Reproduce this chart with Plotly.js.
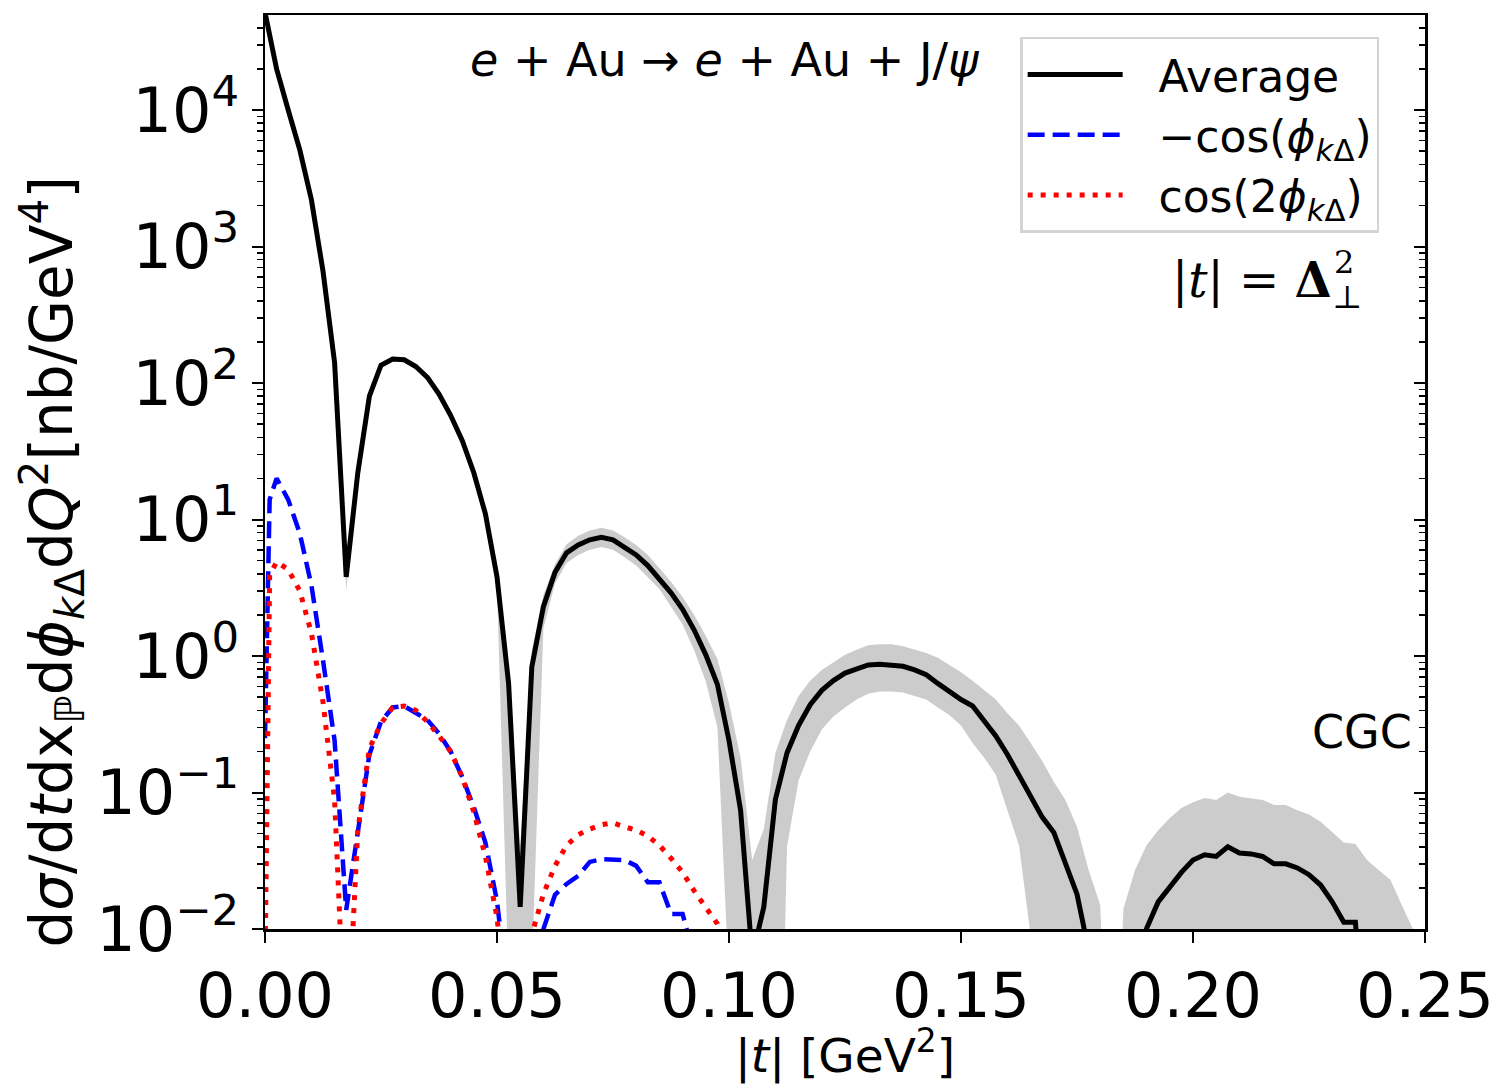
<!DOCTYPE html>
<html>
<head>
<meta charset="utf-8">
<script src="https://cdn.plot.ly/plotly-3.0.1.min.js"></script>
<style>html,body{margin:0;padding:0;background:#fff;}#plot{width:1500px;height:1084px;}</style>
</head>
<body>
<div id="plot"></div>
<script>
// |t| grid for the average and its band
const t = [0,0.0025,0.005,0.0075,0.01,0.0125,0.015,0.0175,0.02,0.0225,0.025,0.0275,0.03,0.0325,0.035,0.0375,0.04,0.0425,0.045,0.0475,
0.05,0.0525,0.055,0.0575,0.06,0.0625,0.065,0.0675,0.07,0.0725,0.075,0.0775,0.08,0.0825,0.085,0.0875,0.09,0.0925,0.095,0.0975,
0.1,0.1025,0.105,0.1075,0.11,0.1125,0.115,0.1175,0.12,0.1225,0.125,0.1275,0.13,0.1325,0.135,0.1375,0.14,0.1425,0.145,0.1475,
0.15,0.1525,0.155,0.1575,0.16,0.1625,0.165,0.1675,0.17,0.1725,0.175,0.1775,0.18,0.1825,0.185,0.1875,0.19,0.1925,0.195,0.1975,
0.2,0.2025,0.205,0.2075,0.21,0.2125,0.215,0.2175,0.22,0.2225,0.225,0.2275,0.23,0.2325,0.235,0.2375,0.24,0.2425,0.245,0.2475,0.25];

const average = [52000,20000,10000,5100,2200,660,141,3.8,22,80,135,150,148,132,110,83,58,38,22,11,
3.8,0.63,0.0145,0.83,2.3,4.1,5.7,6.5,7.1,7.4,7.1,6.3,5.5,4.6,3.7,2.9,2.2,1.55,1.02,0.62,
0.24,0.074,0.0063,0.0145,0.089,0.195,0.31,0.44,0.56,0.66,0.75,0.81,0.86,0.87,0.86,0.84,0.79,0.73,0.63,0.55,
0.48,0.43,0.33,0.26,0.19,0.135,0.096,0.066,0.051,0.030,0.018,0.007,0.002,0.001,0.001,0.004,0.0101,0.0158,0.0203,0.026,
0.032,0.035,0.034,0.040,0.036,0.0355,0.034,0.030,0.030,0.028,0.025,0.021,0.0158,0.0112,0.0112,0.001,0.0006,0.0005,0.0004,0.0003,0.0002];

const bandUpper = [54000,20600,10300,5250,2270,680,146,4.3,23,83,140,156,154,137,114,86,60,39.5,23,11.8,
4.3,0.9,0.04,1.1,2.8,4.7,6.6,7.6,8.3,8.7,8.3,7.4,6.5,5.5,4.4,3.5,2.7,2.0,1.4,0.95,
0.45,0.18,0.032,0.054,0.195,0.34,0.51,0.66,0.79,0.90,1.02,1.11,1.20,1.22,1.22,1.18,1.12,1.05,0.97,0.86,
0.76,0.66,0.56,0.48,0.38,0.31,0.23,0.17,0.12,0.088,0.056,0.027,0.015,0.0001,0.014,0.027,0.041,0.053,0.065,0.077,
0.085,0.091,0.088,0.100,0.093,0.091,0.088,0.081,0.081,0.074,0.069,0.061,0.051,0.043,0.042,0.032,0.027,0.023,0.015,0.0098,0.005];

const bandLower = [50000,19400,9700,4950,2130,640,136,3.0,21,77,130,144,142,127,106,80,56,36.5,21,10.2,
3.2,0.004,0.001,0.005,1.6,3.4,4.8,5.5,6.0,6.3,6.0,5.3,4.6,3.8,3.1,2.3,1.7,1.1,0.65,0.3,
0.004,0.001,0.00001,0.00001,0.00001,0.04,0.123,0.20,0.29,0.36,0.42,0.48,0.53,0.55,0.55,0.54,0.51,0.48,0.42,0.37,
0.31,0.23,0.18,0.135,0.074,0.041,0.009,0.002,0.001,0.001,0.001,0.001,0.001,0.001,0.001,0.001,0.001,0.001,0.001,0.001,
0.001,0.001,0.001,0.001,0.001,0.001,0.001,0.001,0.001,0.001,0.001,0.001,0.001,0.001,0.001,0.001,0.001,0.001,0.001,0.001,0.001];

// |t| grid for the angular modulations
const tMod = [0,0.001,0.0025,0.005,0.0075,0.01,0.0125,0.015,0.0175,0.02,0.0225,0.025,0.0275,0.03,0.0325,0.035,0.0375,0.04,0.0425,0.045,0.0475,
0.05,0.0525,0.055,0.0575,0.06,0.0625,0.065,0.0675,0.07,0.0725,0.075,0.0775,0.08,0.0825,0.085,0.0875,0.09,0.0925,0.095,0.0975,0.1];

const negCos = [0.25,14,20,14,7.9,3.3,0.93,0.24,0.0138,0.050,0.19,0.33,0.42,0.43,0.38,0.34,0.27,0.20,0.13,0.078,0.043,
0.016,0.003,0.001,0.004,0.0100,0.0178,0.0214,0.0245,0.031,0.0325,0.032,0.032,0.029,0.022,0.022,0.0129,0.0129,0.006,0.003,0.002,0.001];

const cos2 = [0.005,3.9,4.9,4.3,3.0,1.47,0.46,0.088,0.001,0.053,0.21,0.32,0.42,0.43,0.40,0.33,0.26,0.20,0.13,0.072,0.034,
0.0122,0.002,0.001,0.0091,0.018,0.029,0.041,0.049,0.054,0.058,0.060,0.056,0.053,0.048,0.041,0.033,0.026,0.019,0.0142,0.0109,0.007];

const xTicks = [0,0.05,0.1,0.15,0.2,0.25];
const yTicks = [0.01,0.1,1,10,100,1000,10000];
const yTickText = ['10<sup>\u22122</sup>','10<sup>\u22121</sup>','10<sup>0</sup>','10<sup>1</sup>','10<sup>2</sup>','10<sup>3</sup>','10<sup>4</sup>'];
const legendNames = ['Average','\u2212cos(<i>\u03d5</i><sub><i>k</i>\u0394</sub>)','cos(2<i>\u03d5</i><sub><i>k</i>\u0394</sub>)'];
const GAP = '\u2002\u2009';

// minor tick positions (axis decoration)
const minorVals = [];
for (let e = -2; e <= 4; e++) for (let m = 2; m <= 9; m++) minorVals.push(m * Math.pow(10, e));

const FONT = 'DejaVu Sans';
const yRange = [-2, 4.696];

const traces = [
  {x: t, y: bandLower, type: 'scatter', mode: 'lines', line: {width: 0, color: 'rgba(0,0,0,0)'}, showlegend: false, hoverinfo: 'skip'},
  {x: t, y: bandUpper, type: 'scatter', mode: 'lines', line: {width: 0, color: 'rgba(0,0,0,0)'}, fill: 'tonexty', fillcolor: 'rgb(204,204,204)', showlegend: false, hoverinfo: 'skip'},
  {x: t, y: average, type: 'scatter', mode: 'lines', name: GAP + legendNames[0], line: {color: 'black', width: 5}},
  {x: tMod, y: negCos, type: 'scatter', mode: 'lines', name: GAP + legendNames[1], line: {color: 'rgb(0,0,255)', width: 4.5, dash: '17px,8px'}},
  {x: tMod, y: cos2, type: 'scatter', mode: 'lines', name: GAP + legendNames[2], line: {color: 'rgb(255,0,0)', width: 5, dash: '5px,8px'}},
  {x: [], y: [], yaxis: 'y2', type: 'scatter', showlegend: false, hoverinfo: 'skip'}
];

const layout = {
  width: 1500, height: 1084,
  margin: {l: 265, r: 75, t: 15, b: 155},
  paper_bgcolor: 'white', plot_bgcolor: 'white',
  font: {family: FONT, color: 'black'},
  showlegend: true,
  xaxis: {
    range: [0, 0.25], tickvals: xTicks, tickformat: '.2f',
    ticks: 'outside', ticklen: 11, tickwidth: 2, tickcolor: 'black',
    showline: true, linecolor: 'black', linewidth: 2.5, mirror: true,
    showgrid: false, zeroline: false,
    tickfont: {size: 62, family: FONT},
    title: {text: '|<i>t</i>| [GeV<sup>2</sup>]', font: {size: 47, family: FONT}, standoff: 17}
  },
  yaxis: {
    type: 'log', range: yRange, tickmode: 'array', tickvals: yTicks, ticktext: yTickText,
    ticks: 'outside', ticklen: 11, tickwidth: 2, tickcolor: 'black',
    minor: {tickmode: 'array', tickvals: minorVals, ticks: 'outside', ticklen: 6, tickwidth: 1.5, tickcolor: 'black', showgrid: false},
    showline: true, linecolor: 'black', linewidth: 2.5, mirror: true,
    showgrid: false, zeroline: false,
    tickfont: {size: 62, family: FONT}
  },
  yaxis2: {
    type: 'log', range: yRange, overlaying: 'y', side: 'right', tickmode: 'array', tickvals: yTicks,
    showticklabels: false, ticks: 'inside', ticklen: 11, tickwidth: 2, tickcolor: 'black',
    minor: {tickmode: 'array', tickvals: minorVals, ticks: 'inside', ticklen: 6, tickwidth: 1.5, tickcolor: 'black', showgrid: false},
    showline: false, showgrid: false, zeroline: false
  },
  legend: {
    x: 0.651, y: 0.976, xanchor: 'left', yanchor: 'top', traceorder: 'normal',
    bgcolor: 'rgba(255,255,255,0.8)', bordercolor: '#d4d4d4', borderwidth: 2.5,
    font: {size: 44, family: FONT}, itemwidth: 95, tracegroupgap: 0
  },
  annotations: [
    {xref: 'paper', yref: 'paper', x: -0.184, y: 0.4015, xanchor: 'center', yanchor: 'middle', showarrow: false, textangle: -90,
     text: 'd<i>\u03c3</i>/d<i>t</i>dx<sub>\u2119</sub>d<i>\u03d5</i><sub><i>k</i>\u0394</sub>d<i>Q</i><sup>2</sup>[nb/GeV<sup>4</sup>]',
     font: {size: 58, family: FONT}},
    {xref: 'paper', yref: 'paper', x: 0.3966, y: 0.9508, xanchor: 'center', yanchor: 'middle', showarrow: false,
     text: '<i>e</i> + Au \u2192 <i>e</i> + Au + J/<i>\u03c8</i>', font: {size: 46, family: FONT}},
    {xref: 'paper', yref: 'paper', x: 0.780, y: 0.710, xanchor: 'left', yanchor: 'middle', showarrow: false,
     text: '|<i>t</i>| = <b>\u0394</b>', font: {size: 48, family: 'DejaVu Serif'}},
    {xref: 'paper', yref: 'paper', x: 0.9198, y: 0.7297, xanchor: 'left', yanchor: 'middle', showarrow: false,
     text: '2', font: {size: 32, family: 'DejaVu Serif'}},
    {xref: 'paper', yref: 'paper', x: 0.918, y: 0.6915, xanchor: 'left', yanchor: 'middle', showarrow: false,
     text: '\u22a5', font: {size: 32, family: 'DejaVu Serif'}},
    {xref: 'paper', yref: 'paper', x: 0.9457, y: 0.2155, xanchor: 'center', yanchor: 'middle', showarrow: false,
     text: 'CGC', font: {size: 46, family: FONT}}
  ]
};

Plotly.newPlot('plot', traces, layout, {staticPlot: true});
</script>
</body>
</html>
